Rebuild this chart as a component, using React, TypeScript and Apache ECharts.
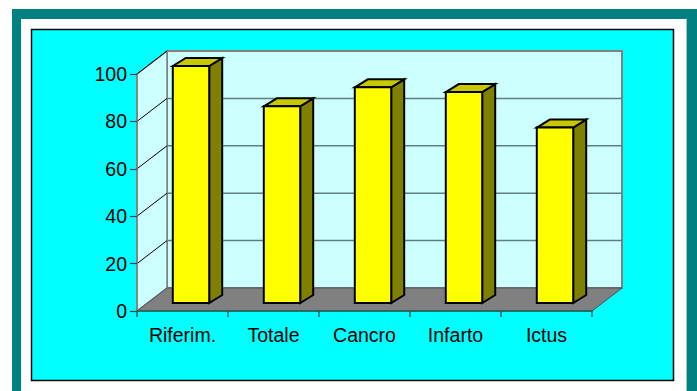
import React, { useEffect, useRef } from "react";
import * as echarts from "echarts";

const categories = ["Riferim.", "Totale", "Cancro", "Infarto", "Ictus"];
const values = [100, 83, 91, 89, 74];
const yMin = 0;
const yMax = 100;
const yInterval = 20;
const gridTicks = [20, 40, 60, 80, 100];

const FONT = "'Liberation Sans', Arial, sans-serif";
const DX = 30;
const DY = -23;

export default function App() {
  const ref = useRef<HTMLDivElement>(null);
  useEffect(() => {
    const chart = echarts.init(ref.current!, null, { renderer: "svg" });
    const option: any = {
      animation: false,
      graphic: [
        { type: "rect", z: -100, shape: { x: 12, y: 9, width: 700, height: 400 }, style: { fill: "#008080" } },
        { type: "rect", z: -99, shape: { x: 21, y: 19, width: 665, height: 400 }, style: { fill: "#ffffff" } },
        { type: "line", z: -99, shape: { x1: 686.5, y1: 19, x2: 686.5, y2: 400 }, style: { stroke: "#9fc8c8", lineWidth: 1 } },
        { type: "rect", z: -98, shape: { x: 31.5, y: 29.5, width: 642, height: 351 }, style: { fill: "#00ffff", stroke: "#000000", lineWidth: 1.5 } },
      ],
      grid: { left: 137, top: 74, width: 455, height: 237, containLabel: false },
      xAxis: {
        type: "category",
        data: categories,
        z: 5,
        axisLine: { show: true, lineStyle: { color: "#1f6060", width: 1.5 } },
        axisTick: { show: true, length: 6, lineStyle: { color: "#1f6060", width: 1.5 } },
        axisLabel: { color: "#000", fontSize: 19.5, fontFamily: FONT, margin: 14 },
        splitLine: { show: false },
      },
      yAxis: {
        type: "value",
        min: yMin,
        max: yMax,
        interval: yInterval,
        z: 5,
        axisLine: { show: true, lineStyle: { color: "#808080", width: 1.5 } },
        axisTick: { show: true, length: 7, lineStyle: { color: "#404040", width: 1.2 } },
        axisLabel: { color: "#000", fontSize: 19.5, fontFamily: FONT, margin: 10 },
        splitLine: { show: false },
      },
      series: [
        {
          type: "custom",
          z: 1,
          silent: true,
          data: [[0, 0]],
          renderItem: (params: any, api: any) => {
            const band = api.size([1, 0])[0];
            const n = categories.length;
            const x0 = api.coord([0, yMin])[0] - band / 2;
            const x1 = api.coord([n - 1, yMin])[0] + band / 2;
            const y0 = api.coord([0, yMin])[1];
            const yT = api.coord([0, yMax])[1];
            const children: any[] = [];
            children.push({
              type: "rect",
              shape: { x: x0 + DX, y: yT + DY, width: x1 - x0, height: y0 - yT },
              style: { fill: "#ccffff", stroke: "#808080", lineWidth: 2 },
            });
            children.push({
              type: "polygon",
              shape: { points: [[x0, y0], [x0, yT], [x0 + DX, yT + DY], [x0 + DX, y0 + DY]] },
              style: { fill: "#ccffff", stroke: "#808080", lineWidth: 1.5 },
            });
            gridTicks.forEach((v) => {
              const yv = api.coord([0, v])[1];
              if (v < yMax) {
                children.push({
                  type: "line",
                  shape: { x1: x0 + DX, y1: yv + DY, x2: x1 + DX, y2: yv + DY },
                  style: { stroke: "#5f7f7f", lineWidth: 1.5 },
                });
              }
              children.push({
                type: "line",
                shape: { x1: x0, y1: yv, x2: x0 + DX, y2: yv + DY },
                style: { stroke: "#000000", lineWidth: 1 },
              });
            });
            children.push({
              type: "polygon",
              shape: { points: [[x0, y0], [x0 + DX, y0 + DY], [x1 + DX, y0 + DY], [x1, y0]] },
              style: { fill: "#808080", stroke: "#505050", lineWidth: 1 },
            });
            return { type: "group", children };
          },
        },
        {
          type: "custom",
          z: 3,
          data: values.map((v, i) => [i, v]),
          renderItem: (params: any, api: any) => {
            const i = api.value(0);
            const v = api.value(1);
            const band = api.size([1, 0])[0];
            const c0 = api.coord([i, 0]);
            const c1 = api.coord([i, v]);
            const bw = band * 0.4;
            const OX = 8.5;
            const OY = -8;
            const dx = 13;
            const dy = -8;
            const xl = c0[0] - bw / 2 + OX;
            const xr = c0[0] + bw / 2 + OX;
            const yb = c0[1] + OY;
            const yt = c1[1] + OY;
            const stroke = { stroke: "#000000", lineWidth: 2, lineJoin: "miter" };
            return {
              type: "group",
              children: [
                {
                  type: "polygon",
                  shape: { points: [[xr, yt], [xr + dx, yt + dy], [xr + dx, yb + dy], [xr, yb]] },
                  style: { fill: "#808000", ...stroke },
                },
                {
                  type: "polygon",
                  shape: { points: [[xl, yt], [xl + dx, yt + dy], [xr + dx, yt + dy], [xr, yt]] },
                  style: { fill: "#c8c800", ...stroke },
                },
                {
                  type: "rect",
                  shape: { x: xl, y: yt, width: xr - xl, height: yb - yt },
                  style: { fill: "#ffff00", ...stroke },
                },
              ],
            };
          },
        },
      ],
    };
    chart.setOption(option);
    return () => chart.dispose();
  }, []);
  return (
    <div
      ref={ref}
      style={{ position: "absolute", left: 0, top: 0, width: 697, height: 391, overflow: "hidden" }}
    />
  );
}
